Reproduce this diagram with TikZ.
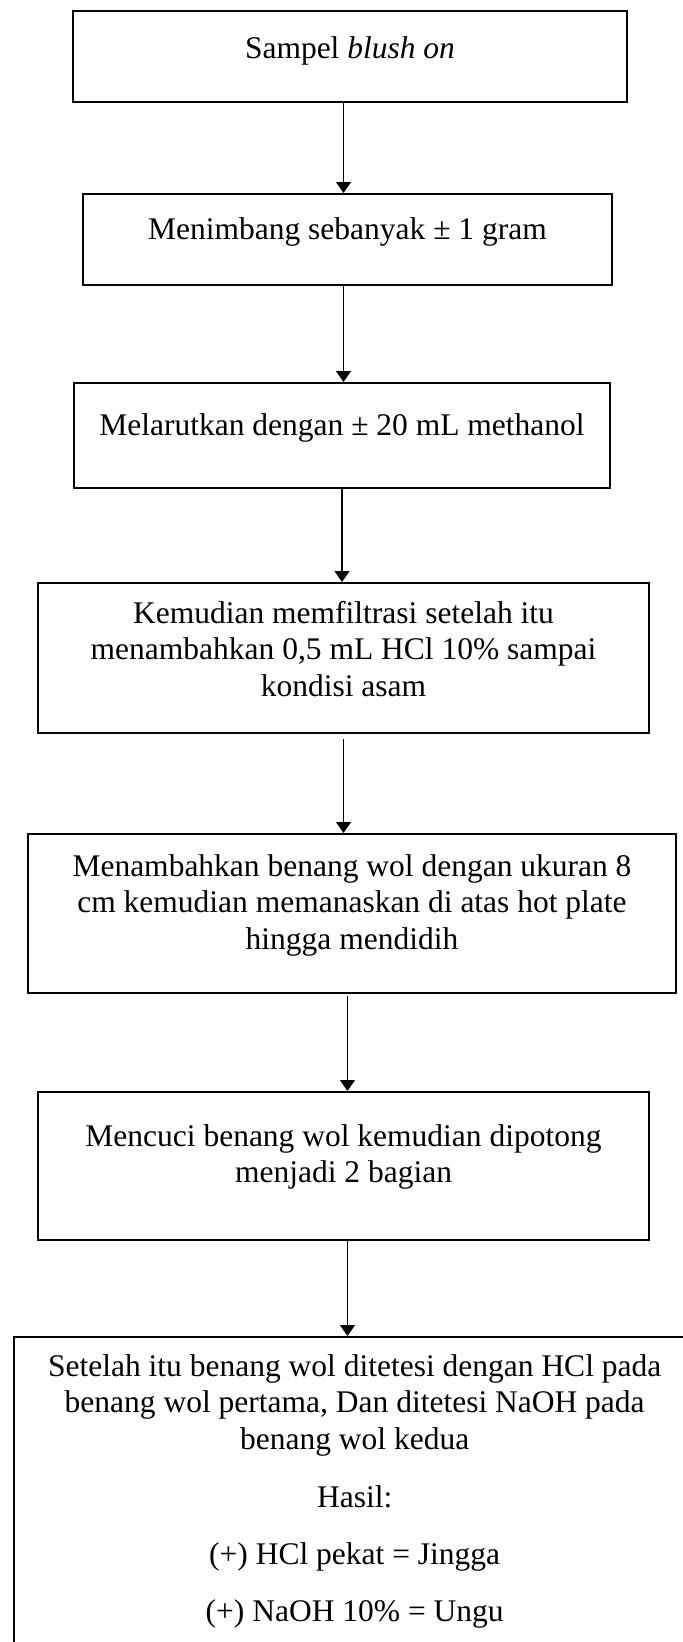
\documentclass[tikz,border=0pt]{standalone}
\usepackage{fontspec}
\setmainfont{Liberation Serif}
\usepackage{tikz}
\usetikzlibrary{arrows.meta}

\newcommand{\boxtext}[4]{\parbox[c][#2][t]{#1}{\centering\rule{0pt}{#3}#4}}

\begin{document}
\begin{tikzpicture}[x=1pt, y=-1pt,
    stepbox/.style={draw, line width=2pt, inner sep=0pt, anchor=north west,
        font=\fontsize{31.5}{36.8}\selectfont},
    flow/.style={-{Triangle[length=11pt, width=15pt]}, line width=1.3pt}]
    \useasboundingbox (0,0) rectangle (683,1642);
    \clip (0,0) rectangle (683,1642);
    \node[stepbox](b1) at (72,10)   {\boxtext{554pt}{91pt}{47pt}{Sampel \textit{blush on}}};
    \node[stepbox](b2) at (82,193)  {\boxtext{529pt}{91pt}{45pt}{Menimbang sebanyak ± 1 gram}};
    \node[stepbox](b3) at (73,382)  {\boxtext{536pt}{105pt}{52pt}{Melarutkan dengan ± 20 mL methanol}};
    \node[stepbox](b4) at (37,582)  {\boxtext{611pt}{150pt}{40pt}{Kemudian memfiltrasi setelah itu\\
        menambahkan 0,5 mL HCl 10\% sampai\\ kondisi asam}};
    \node[stepbox](b5) at (27,833)  {\boxtext{648pt}{159pt}{42pt}{Menambahkan benang wol dengan ukuran 8\\
        cm kemudian memanaskan di atas hot plate\\ hingga mendidih}};
    \node[stepbox](b6) at (37,1091) {\boxtext{611pt}{148pt}{54pt}{Mencuci benang wol kemudian dipotong\\
        menjadi 2 bagian}};
    \node[stepbox](b7) at (12.7,1336) {\boxtext{682pt}{364pt}{39pt}{Setelah itu benang wol ditetesi dengan HCl pada\\
        benang wol pertama, Dan ditetesi NaOH pada\\ benang wol kedua\\[21pt]
        Hasil:\\[20pt] (+) HCl pekat = Jingga\\[20pt] (+) NaOH 10\% = Ungu}};
    \path
        (b1.south -| b4) edge [flow] (b2.north -| b4)
        (b2.south -| b4) edge [flow] (b3.north -| b4)
        (b3.south -| b3) edge [flow] (b4.north -| b3)
        (b4.south -| b4) edge [flow, shorten <=5pt] (b5.north -| b4)
        (b5.south -| b2) edge [flow, shorten <=2pt] (b6.north -| b2)
        (b6.south -| b2) edge [flow] (b7.north -| b2)
        ;
\end{tikzpicture}
\end{document}
